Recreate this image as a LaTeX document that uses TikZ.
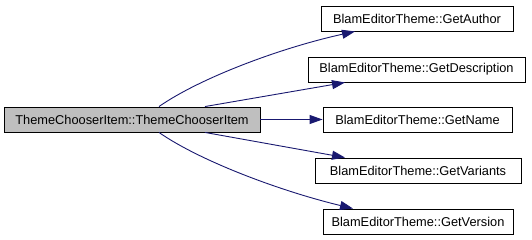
\documentclass[tikz,border=0pt]{standalone}
\usepackage{fontspec}
\setmainfont{Liberation Sans}
\usetikzlibrary{arrows.meta}
\definecolor{edgecol}{RGB}{25,25,112}
\definecolor{mainfill}{RGB}{191,191,191}
\tikzset{
  fbox/.style={draw=black, line width=0.9pt, inner sep=0pt, minimum height=25pt,
    font=\fontsize{12.8}{15}\selectfont, anchor=center},
  mainbox/.style={fbox, fill=mainfill},
  calledge/.style={draw=edgecol, line width=0.9pt, -{Triangle[length=13pt,width=9pt]}}
}
\begin{document}
\begin{tikzpicture}[x=1pt,y=-1pt]
\useasboundingbox (0,0) rectangle (532,240);
\node[mainbox, minimum width=256pt] (main) at (132,119.5) {ThemeChooserItem::ThemeChooserItem};
\node[fbox, minimum width=192pt] (author) at (417,18.5) {BlamEditorTheme::GetAuthor};
\node[fbox, minimum width=217pt] (desc) at (416.5,69.5) {BlamEditorTheme::GetDescription};
\node[fbox, minimum width=189pt] (name) at (417.5,119.5) {BlamEditorTheme::GetName};
\node[fbox, minimum width=206pt] (var) at (418,170.5) {BlamEditorTheme::GetVariants};
\node[fbox, minimum width=190pt] (ver) at (418,221.5) {BlamEditorTheme::GetVersion};
\draw[calledge] ([xshift=27pt]main.north) .. controls (200,78) and (280,48) .. ([xshift=-62pt]author.south);
\draw[calledge] ([xshift=73pt]main.north) -- ([xshift=-71.5pt]desc.south);
\draw[calledge] (main.east) -- (name.west);
\draw[calledge] ([xshift=73pt]main.south) -- ([xshift=-73pt]var.north);
\draw[calledge] ([xshift=27pt]main.south) .. controls (200,161) and (280,191) .. ([xshift=-65pt]ver.north);
\end{tikzpicture}
\end{document}
